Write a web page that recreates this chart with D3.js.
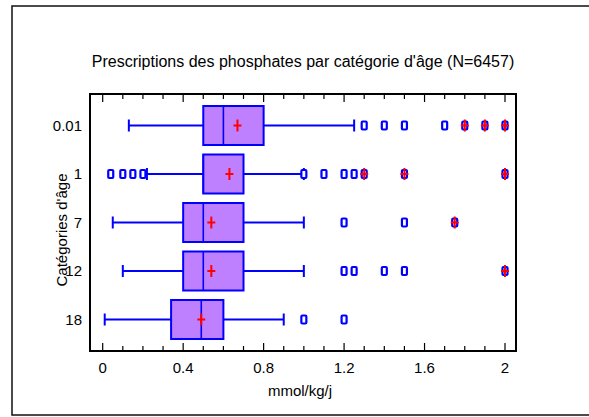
<!DOCTYPE html>
<html>
<head>
<meta charset="utf-8">
<script src="https://cdn.jsdelivr.net/npm/d3@7"></script>
<style>
  body { margin: 0; background: #fff; }
  svg { display: block; font-family: "Liberation Sans", Arial, sans-serif; }
</style>
</head>
<body>
<div class="graph-content"></div>
<script>
// data
var categories = ["0.01", "1", "7", "12", "18"];
var q1 = [0.5, 0.5, 0.4, 0.4, 0.34];
var medians = [0.6, 0.5, 0.5, 0.5, 0.49];
var q3 = [0.8, 0.7, 0.7, 0.7, 0.6];
var whiskerLow = [0.13, 0.22, 0.05, 0.1, 0.01];
var whiskerHigh = [1.25, 1.0, 1.0, 1.0, 0.9];
var means = [0.67, 0.63, 0.54, 0.54, 0.49];
var outliers = [
    [1.3, 1.4, 1.5, 1.7, 1.8, 1.9, 2.0],
    [0.04, 0.1, 0.15, 0.2, 1.0, 1.1, 1.2, 1.25, 1.3, 1.5, 2.0],
    [1.2, 1.5, 1.75],
    [1.2, 1.25, 1.4, 1.5, 2.0],
    [1.0, 1.2]
];
var extremes = [
    [1.8, 1.9, 2.0],
    [1.3, 1.5, 2.0],
    [1.75],
    [2.0],
    []
];
var xTicks = [0, 0.4, 0.8, 1.2, 1.6, 2];

var W = 589, H = 417;
var plot = {left: 90, right: 516, top: 94, bottom: 351};

var svg = d3.select(".graph-content").append("svg")
    .attr("width", W)
    .attr("height", H);

// outer frame
svg.append("rect")
    .attr("x", 12).attr("y", 6)
    .attr("width", 600).attr("height", 409)
    .attr("fill", "none")
    .attr("stroke", "#111")
    .attr("stroke-width", 1.5);

var x = d3.scaleLinear().domain([0, 2]).range([102.7, 505]);
var y = d3.scalePoint().domain(categories).range([125.5, 319.5]);

var rows = categories.map(function(c, i) {
    return {cat: c, q1: q1[i], med: medians[i], q3: q3[i], lo: whiskerLow[i],
            hi: whiskerHigh[i], mean: means[i], out: outliers[i], ext: extremes[i]};
});

var boxH = 39, capH = 12;
var blue = "#0000ff";

var g = svg.append("g");

// whiskers
rows.forEach(function(d) {
    var cy = y(d.cat);
    g.append("line")
        .attr("x1", x(d.lo)).attr("x2", x(d.q1))
        .attr("y1", cy).attr("y2", cy)
        .attr("stroke", blue).attr("stroke-width", 2);
    g.append("line")
        .attr("x1", x(d.q3)).attr("x2", x(d.hi))
        .attr("y1", cy).attr("y2", cy)
        .attr("stroke", blue).attr("stroke-width", 2);
    [d.lo, d.hi].forEach(function(v) {
        g.append("line")
            .attr("x1", x(v)).attr("x2", x(v))
            .attr("y1", cy - capH / 2).attr("y2", cy + capH / 2)
            .attr("stroke", blue).attr("stroke-width", 2);
    });
});

// boxes
g.selectAll("rect.box")
    .data(rows)
    .enter().append("rect")
    .attr("class", "box")
    .attr("x", function(d) { return x(d.q1); })
    .attr("y", function(d) { return y(d.cat) - boxH / 2; })
    .attr("width", function(d) { return x(d.q3) - x(d.q1); })
    .attr("height", boxH)
    .attr("fill", "#bf80ff")
    .attr("stroke", blue)
    .attr("stroke-width", 2);

g.selectAll("line.median")
    .data(rows)
    .enter().append("line")
    .attr("class", "median")
    .attr("x1", function(d) { return x(d.med); })
    .attr("x2", function(d) { return x(d.med); })
    .attr("y1", function(d) { return y(d.cat) - boxH / 2; })
    .attr("y2", function(d) { return y(d.cat) + boxH / 2; })
    .attr("stroke", blue)
    .attr("stroke-width", 1.6);

// outliers
rows.forEach(function(d) {
    var cy = y(d.cat);
    d.out.forEach(function(v) {
        g.append("rect")
            .attr("x", x(v) - 2.5).attr("y", cy - 4)
            .attr("width", 5).attr("height", 8)
            .attr("rx", 1)
            .attr("fill", "#fff")
            .attr("stroke", blue)
            .attr("stroke-width", 2.2);
    });
});

function cross(cx, cy) {
    g.append("line")
        .attr("x1", cx - 4).attr("x2", cx + 4)
        .attr("y1", cy).attr("y2", cy)
        .attr("stroke", "#ff0000").attr("stroke-width", 2);
    g.append("line")
        .attr("x1", cx).attr("x2", cx)
        .attr("y1", cy - 6).attr("y2", cy + 6)
        .attr("stroke", "#ff0000").attr("stroke-width", 2);
}

rows.forEach(function(d) {
    var cy = y(d.cat);
    d.ext.forEach(function(v) { cross(x(v), cy); });
    cross(x(d.mean), cy);
});

// plot frame
svg.append("rect")
    .attr("x", plot.left).attr("y", plot.top)
    .attr("width", plot.right - plot.left)
    .attr("height", plot.bottom - plot.top)
    .attr("fill", "none")
    .attr("stroke", "#000")
    .attr("stroke-width", 2);

// inward ticks on top and bottom
var minor = d3.range(0, 21).map(function(i) { return i / 10; });
minor.forEach(function(v) {
    var major = Math.abs((v / 0.4) - Math.round(v / 0.4)) < 1e-6;
    var len = major ? 8 : 5;
    svg.append("line")
        .attr("x1", x(v)).attr("x2", x(v))
        .attr("y1", plot.bottom).attr("y2", plot.bottom - len)
        .attr("stroke", "#000").attr("stroke-width", 1.2);
    svg.append("line")
        .attr("x1", x(v)).attr("x2", x(v))
        .attr("y1", plot.top).attr("y2", plot.top + len)
        .attr("stroke", "#000").attr("stroke-width", 1.2);
});

svg.selectAll("text.xtick")
    .data(xTicks)
    .enter().append("text")
    .attr("class", "xtick")
    .attr("x", function(d) { return x(d); })
    .attr("y", 373)
    .attr("text-anchor", "middle")
    .attr("font-size", 15)
    .text(function(d) { return d; });

svg.selectAll("text.ytick")
    .data(categories)
    .enter().append("text")
    .attr("class", "ytick")
    .attr("x", 82)
    .attr("y", function(d) { return y(d) + 5; })
    .attr("text-anchor", "end")
    .attr("font-size", 15)
    .text(function(d) { return d; });

svg.append("text")
    .attr("x", 300).attr("y", 396)
    .attr("text-anchor", "middle")
    .attr("font-size", 15)
    .text("mmol/kg/j");

svg.append("text")
    .attr("transform", "translate(67,230) rotate(-90)")
    .attr("text-anchor", "middle")
    .attr("font-size", 15)
    .text("Catégories d'âge");

svg.append("text")
    .attr("x", 303).attr("y", 67)
    .attr("text-anchor", "middle")
    .attr("font-size", 16)
    .text("Prescriptions des phosphates par catégorie d'âge (N=6457)");
</script>
</body>
</html>
